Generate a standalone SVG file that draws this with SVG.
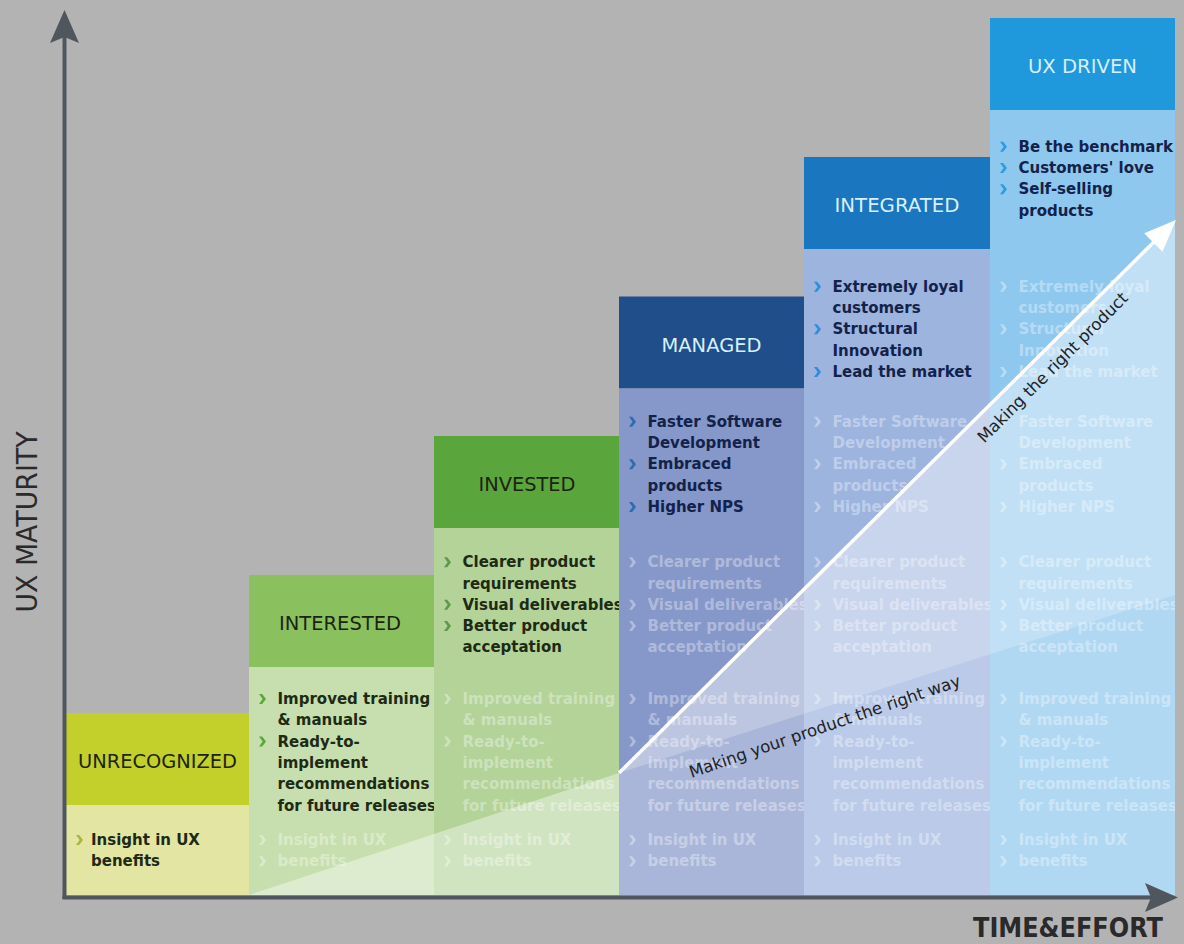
<svg xmlns="http://www.w3.org/2000/svg" width="1184" height="944" viewBox="0 0 1184 944">
<style>
.hdr{font-family:"DejaVu Sans","Liberation Sans",sans-serif;font-size:20px;text-anchor:middle}
.hd{fill:#1b2410}.hl{fill:#d8effc}
.bt{font-family:"DejaVu Sans","Liberation Sans",sans-serif;font-size:15px;font-weight:bold}
.tg{fill:#1e2a14}.tb{fill:#13224a}
.fade{fill:#ffffff;fill-opacity:0.36}
.diag{font-family:"DejaVu Sans","Liberation Sans",sans-serif;font-size:16.5px;fill:#222;text-anchor:middle}
.axl{font-family:"DejaVu Sans","Liberation Sans",sans-serif;fill:#2a2a2a;text-anchor:middle}
.axis{stroke:#50565e;stroke-width:4;fill:none}
</style>
<defs>
<path id="chev" d="M0,-5 L3.2,-5 L7,0 L3.2,5 L0,5 L3.6,0 Z"/>
<marker id="axh" markerUnits="userSpaceOnUse" markerWidth="34" markerHeight="30" viewBox="0 0 34 30" refX="13" refY="14.5" orient="auto">
<path d="M0,0 L33,14.5 L0,29 L6,14.5 Z" fill="#50565e"/>
</marker>
<marker id="wh" markerUnits="userSpaceOnUse" markerWidth="34" markerHeight="28" viewBox="0 0 34 28" refX="12" refY="13" orient="auto">
<path d="M0,0 L32,13 L0,26 Z" fill="#ffffff"/>
</marker>
</defs>
<rect x="0" y="0" width="1184" height="944" fill="#b3b3b3"/>

<g id="col-unrecognized">
<rect x="66" y="713" width="183" height="92" fill="#c3cf2b"/>
<rect x="66" y="805" width="183" height="90" fill="#e3e6a3"/>
<text class="hdr hd" x="157.5" y="768" textLength="159" lengthAdjust="spacingAndGlyphs">UNRECOGNIZED</text>
<use href="#chev" x="76" y="840" fill="#aab83c"/>
<text class="bt tg"><tspan x="91" y="845">Insight in UX</tspan><tspan x="91" y="866.3">benefits</tspan></text>
</g>

<g id="col-interested">
<rect x="249" y="575" width="185" height="92" fill="#8bc05f"/>
<rect x="249" y="667" width="185" height="228" fill="#c7dfae"/>
<text class="hdr hd" x="340" y="630" textLength="122" lengthAdjust="spacingAndGlyphs">INTERESTED</text>
<g fill="#5aa83c"><use href="#chev" x="259" y="699"/><use href="#chev" x="259" y="741.6"/></g>
<text class="bt tg"><tspan x="277.5" y="704">Improved training</tspan><tspan x="277.5" y="725.3">&amp; manuals</tspan><tspan x="277.5" y="746.6">Ready-to-</tspan><tspan x="277.5" y="767.9">implement</tspan><tspan x="277.5" y="789.2">recommendations</tspan><tspan x="277.5" y="810.5">for future releases</tspan></text>
<g class="fade"><use href="#chev" x="259" y="840"/><use href="#chev" x="259" y="861.3"/>
<text class="bt"><tspan x="277.5" y="845">Insight in UX</tspan><tspan x="277.5" y="866.3">benefits</tspan></text></g>
</g>

<g id="col-invested">
<rect x="434" y="436" width="185" height="92" fill="#5ba53d"/>
<rect x="434" y="528" width="185" height="367" fill="#b3d399"/>
<text class="hdr hd" x="527" y="491" textLength="97" lengthAdjust="spacingAndGlyphs">INVESTED</text>
<g fill="#5e9a46"><use href="#chev" x="444" y="562.3"/><use href="#chev" x="444" y="604.7"/><use href="#chev" x="444" y="625.9"/></g>
<text class="bt tg"><tspan x="462.5" y="567.3">Clearer product</tspan><tspan x="462.5" y="588.5">requirements</tspan><tspan x="462.5" y="609.7">Visual deliverables</tspan><tspan x="462.5" y="630.9">Better product</tspan><tspan x="462.5" y="652.1">acceptation</tspan></text>
<g class="fade"><use href="#chev" x="444" y="699"/><use href="#chev" x="444" y="741.6"/><use href="#chev" x="444" y="840"/><use href="#chev" x="444" y="861.3"/>
<text class="bt"><tspan x="462.5" y="704">Improved training</tspan><tspan x="462.5" y="725.3">&amp; manuals</tspan><tspan x="462.5" y="746.6">Ready-to-</tspan><tspan x="462.5" y="767.9">implement</tspan><tspan x="462.5" y="789.2">recommendations</tspan><tspan x="462.5" y="810.5">for future releases</tspan><tspan x="462.5" y="845">Insight in UX</tspan><tspan x="462.5" y="866.3">benefits</tspan></text></g>
</g>

<g id="col-managed">
<rect x="619" y="296.5" width="185" height="92" fill="#1f4e8a"/>
<rect x="619" y="388.5" width="185" height="506.5" fill="#8697c9"/>
<text class="hdr hl" x="711.5" y="351.5" textLength="100" lengthAdjust="spacingAndGlyphs">MANAGED</text>
<g fill="#2e6bb0"><use href="#chev" x="629" y="421.7"/><use href="#chev" x="629" y="464.3"/><use href="#chev" x="629" y="506.9"/></g>
<text class="bt tb"><tspan x="647.5" y="426.7">Faster Software</tspan><tspan x="647.5" y="448">Development</tspan><tspan x="647.5" y="469.3">Embraced</tspan><tspan x="647.5" y="490.6">products</tspan><tspan x="647.5" y="511.9">Higher NPS</tspan></text>
<g class="fade"><use href="#chev" x="629" y="562.3"/><use href="#chev" x="629" y="604.7"/><use href="#chev" x="629" y="625.9"/><use href="#chev" x="629" y="699"/><use href="#chev" x="629" y="741.6"/><use href="#chev" x="629" y="840"/><use href="#chev" x="629" y="861.3"/>
<text class="bt"><tspan x="647.5" y="567.3">Clearer product</tspan><tspan x="647.5" y="588.5">requirements</tspan><tspan x="647.5" y="609.7">Visual deliverables</tspan><tspan x="647.5" y="630.9">Better product</tspan><tspan x="647.5" y="652.1">acceptation</tspan><tspan x="647.5" y="704">Improved training</tspan><tspan x="647.5" y="725.3">&amp; manuals</tspan><tspan x="647.5" y="746.6">Ready-to-</tspan><tspan x="647.5" y="767.9">implement</tspan><tspan x="647.5" y="789.2">recommendations</tspan><tspan x="647.5" y="810.5">for future releases</tspan><tspan x="647.5" y="845">Insight in UX</tspan><tspan x="647.5" y="866.3">benefits</tspan></text></g>
</g>

<g id="col-integrated">
<rect x="804" y="157" width="186" height="92" fill="#1a76bf"/>
<rect x="804" y="249" width="186" height="646" fill="#9db4df"/>
<text class="hdr hl" x="897" y="212" textLength="125" lengthAdjust="spacingAndGlyphs">INTEGRATED</text>
<g fill="#2d8fd8"><use href="#chev" x="814" y="286.7"/><use href="#chev" x="814" y="329.3"/><use href="#chev" x="814" y="371.9"/></g>
<text class="bt tb"><tspan x="832.5" y="291.7">Extremely loyal</tspan><tspan x="832.5" y="313">customers</tspan><tspan x="832.5" y="334.3">Structural</tspan><tspan x="832.5" y="355.6">Innovation</tspan><tspan x="832.5" y="376.9">Lead the market</tspan></text>
<g class="fade"><use href="#chev" x="814" y="421.7"/><use href="#chev" x="814" y="464.3"/><use href="#chev" x="814" y="506.9"/><use href="#chev" x="814" y="562.3"/><use href="#chev" x="814" y="604.7"/><use href="#chev" x="814" y="625.9"/><use href="#chev" x="814" y="699"/><use href="#chev" x="814" y="741.6"/><use href="#chev" x="814" y="840"/><use href="#chev" x="814" y="861.3"/>
<text class="bt"><tspan x="832.5" y="426.7">Faster Software</tspan><tspan x="832.5" y="448">Development</tspan><tspan x="832.5" y="469.3">Embraced</tspan><tspan x="832.5" y="490.6">products</tspan><tspan x="832.5" y="511.9">Higher NPS</tspan><tspan x="832.5" y="567.3">Clearer product</tspan><tspan x="832.5" y="588.5">requirements</tspan><tspan x="832.5" y="609.7">Visual deliverables</tspan><tspan x="832.5" y="630.9">Better product</tspan><tspan x="832.5" y="652.1">acceptation</tspan><tspan x="832.5" y="704">Improved training</tspan><tspan x="832.5" y="725.3">&amp; manuals</tspan><tspan x="832.5" y="746.6">Ready-to-</tspan><tspan x="832.5" y="767.9">implement</tspan><tspan x="832.5" y="789.2">recommendations</tspan><tspan x="832.5" y="810.5">for future releases</tspan><tspan x="832.5" y="845">Insight in UX</tspan><tspan x="832.5" y="866.3">benefits</tspan></text></g>
</g>

<g id="col-ux-driven">
<rect x="990" y="18" width="185" height="92" fill="#1f98dc"/>
<rect x="990" y="110" width="185" height="785" fill="#8fc8ee"/>
<text class="hdr hl" x="1082.5" y="73" textLength="109" lengthAdjust="spacingAndGlyphs">UX DRIVEN</text>
<g fill="#2e9de0"><use href="#chev" x="1000" y="146.7"/><use href="#chev" x="1000" y="168"/><use href="#chev" x="1000" y="189.3"/></g>
<text class="bt tb"><tspan x="1018.5" y="151.7">Be the benchmark</tspan><tspan x="1018.5" y="173">Customers' love</tspan><tspan x="1018.5" y="194.3">Self-selling</tspan><tspan x="1018.5" y="215.6">products</tspan></text>
<g class="fade"><use href="#chev" x="1000" y="286.7"/><use href="#chev" x="1000" y="329.3"/><use href="#chev" x="1000" y="371.9"/><use href="#chev" x="1000" y="421.7"/><use href="#chev" x="1000" y="464.3"/><use href="#chev" x="1000" y="506.9"/><use href="#chev" x="1000" y="562.3"/><use href="#chev" x="1000" y="604.7"/><use href="#chev" x="1000" y="625.9"/><use href="#chev" x="1000" y="699"/><use href="#chev" x="1000" y="741.6"/><use href="#chev" x="1000" y="840"/><use href="#chev" x="1000" y="861.3"/>
<text class="bt"><tspan x="1018.5" y="291.7">Extremely loyal</tspan><tspan x="1018.5" y="313">customers</tspan><tspan x="1018.5" y="334.3">Structural</tspan><tspan x="1018.5" y="355.6">Innovation</tspan><tspan x="1018.5" y="376.9">Lead the market</tspan><tspan x="1018.5" y="426.7">Faster Software</tspan><tspan x="1018.5" y="448">Development</tspan><tspan x="1018.5" y="469.3">Embraced</tspan><tspan x="1018.5" y="490.6">products</tspan><tspan x="1018.5" y="511.9">Higher NPS</tspan><tspan x="1018.5" y="567.3">Clearer product</tspan><tspan x="1018.5" y="588.5">requirements</tspan><tspan x="1018.5" y="609.7">Visual deliverables</tspan><tspan x="1018.5" y="630.9">Better product</tspan><tspan x="1018.5" y="652.1">acceptation</tspan><tspan x="1018.5" y="704">Improved training</tspan><tspan x="1018.5" y="725.3">&amp; manuals</tspan><tspan x="1018.5" y="746.6">Ready-to-</tspan><tspan x="1018.5" y="767.9">implement</tspan><tspan x="1018.5" y="789.2">recommendations</tspan><tspan x="1018.5" y="810.5">for future releases</tspan><tspan x="1018.5" y="845">Insight in UX</tspan><tspan x="1018.5" y="866.3">benefits</tspan></text></g>
</g>

<rect x="1175" y="0" width="9" height="895" fill="#b3b3b3"/>

<g id="overlays">
<polygon points="249,895 619,773 1175,221 1175,895" fill="#ffffff" fill-opacity="0.3"/>
<polygon points="619,773 1175,221 1175,595" fill="#ffffff" fill-opacity="0.22"/>
<polygon points="249,895 619,773 619,895" fill="#ffffff" fill-opacity="0.14"/>
</g>

<g id="connectors">
<line class="axis" x1="64.5" y1="899" x2="64.5" y2="30" marker-end="url(#axh)"/>
<line class="axis" x1="62.5" y1="897.5" x2="1158" y2="897.5" marker-end="url(#axh)"/>
<line x1="619" y1="773" x2="1161.8" y2="234.1" stroke="#ffffff" stroke-width="3.5" marker-end="url(#wh)"/>
<text class="diag" transform="translate(1053,368) rotate(-45)" x="0" y="5">Making the right product</text>
<text class="diag" transform="translate(825,727) rotate(-18.9)" x="0" y="5">Making your product the right way</text>
</g>

<g id="axis-labels">
<text class="axl" transform="translate(37,522) rotate(-90)" x="0" y="0" font-size="28" textLength="181" lengthAdjust="spacingAndGlyphs">UX MATURITY</text>
<text class="axl" x="1068" y="937" font-size="26" font-weight="bold" textLength="190" lengthAdjust="spacingAndGlyphs">TIME&amp;EFFORT</text>
</g>
</svg>
